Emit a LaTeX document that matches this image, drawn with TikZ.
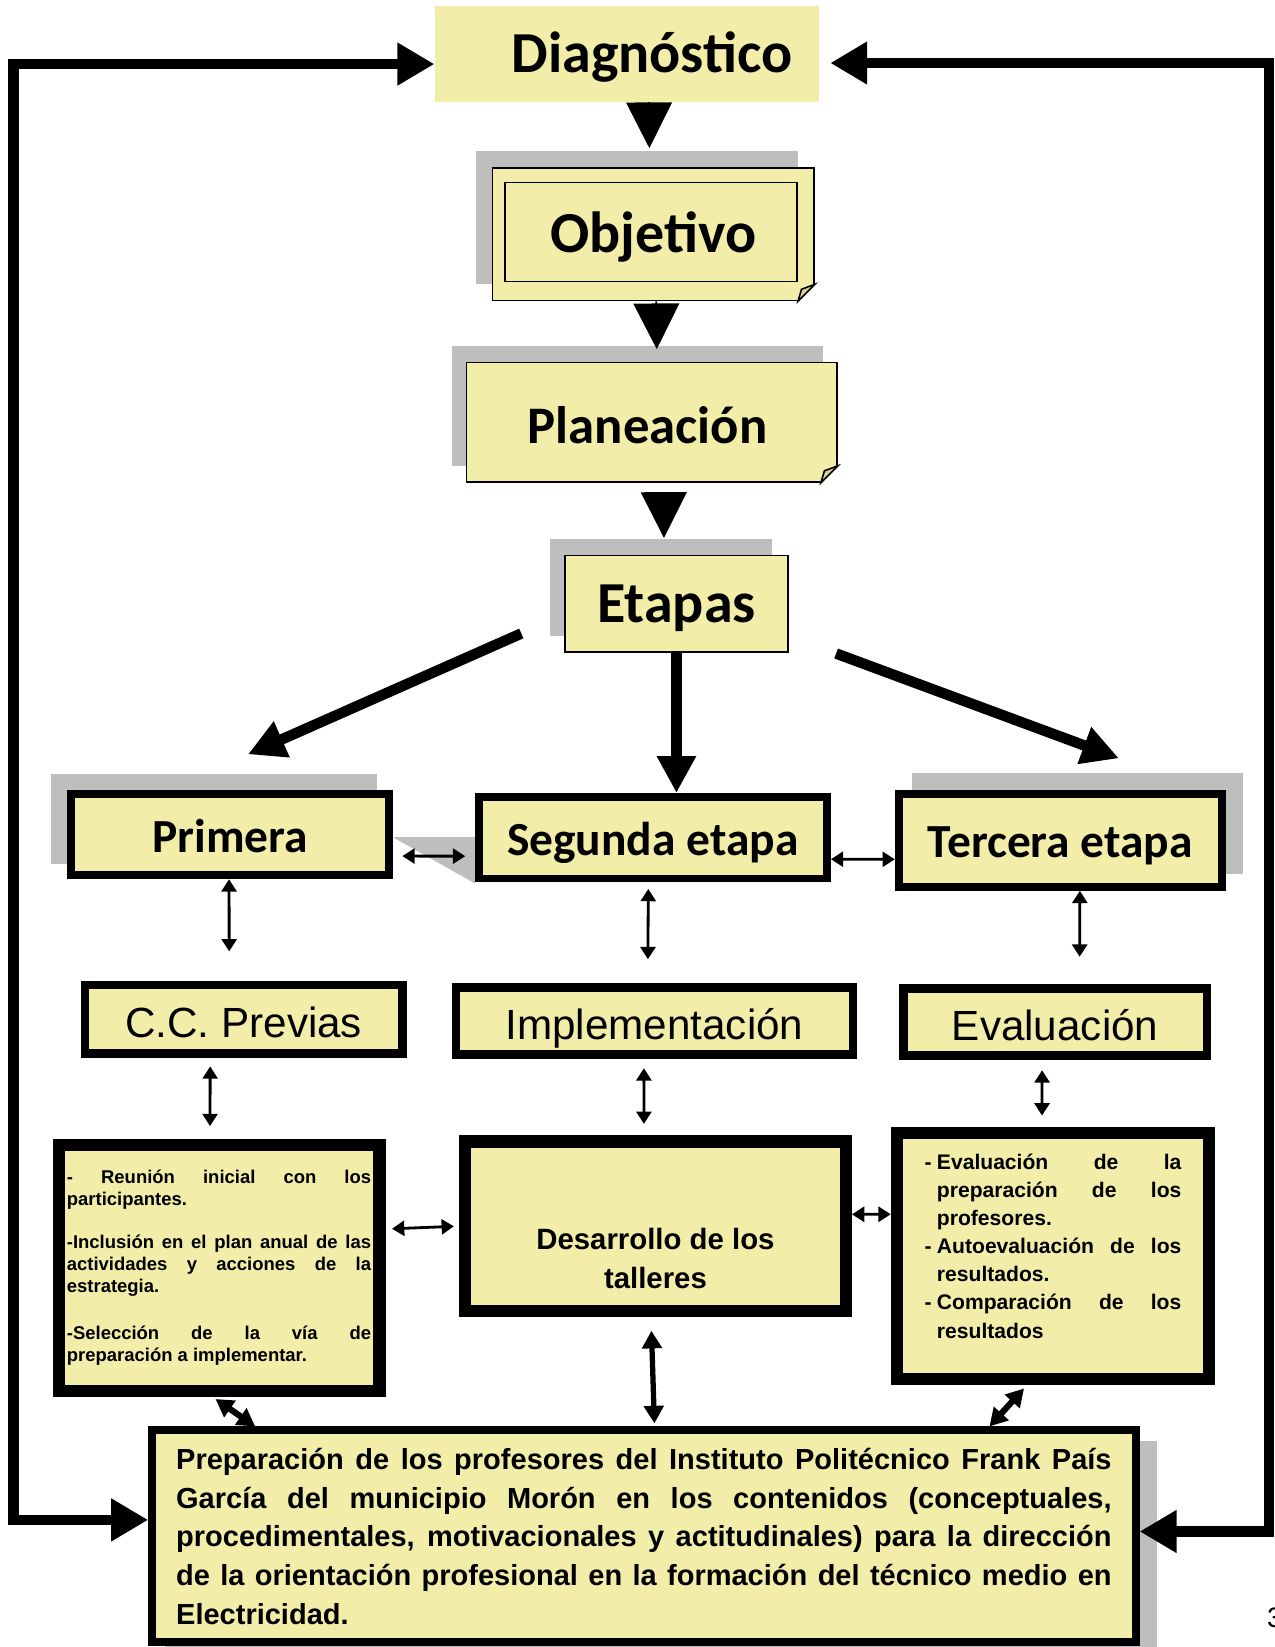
\documentclass[tikz,border=0pt]{standalone}
\usepackage{fontspec}
\setmainfont{Liberation Sans}
\newfontfamily\calibri{Carlito}
\usetikzlibrary{arrows.meta,calc,shadows}

\definecolor{boxyellow}{RGB}{242,237,169}
\definecolor{shadegray}{RGB}{190,190,190}
\definecolor{foldyellow}{RGB}{215,209,150}

\tolerance=10000
\hyphenpenalty=10000
\exhyphenpenalty=10000

\newcommand{\dashitem}{\par\hangindent=7pt\hangafter=1\noindent\makebox[7pt][l]{-}}

\tikzset{
  headbox/.style={font=\calibri\bfseries\fontsize{33}{40}\selectfont, fill=boxyellow, inner sep=0pt,
                  text height=21.3pt, text depth=0pt},
  stagebox/.style={font=\calibri\bfseries\fontsize{27}{32}\selectfont, fill=boxyellow, draw, line width=4.5pt, inner sep=0pt,
                  text height=20pt, text depth=0pt},
  phasebox/.style={font=\fontsize{24}{28}\selectfont, fill=boxyellow, draw, line width=4.8pt, inner sep=0pt,
                  text height=21pt, text depth=0pt},
  heavybox/.style={fill=boxyellow, draw, line width=7pt, inner sep=0pt},
  tri/.style={-{Triangle[length=26pt,width=26pt]}, line width=1pt},
  loopline/.style={<->, >={Triangle[length=21pt,width=23pt]}, line width=6pt},
  bigarrow/.style={-{Triangle[length=21pt,width=21pt]}, line width=6pt},
  dbl/.style={<->, >={Triangle[length=7pt,width=8.5pt]}, line width=1.6pt},
  dblthick/.style={<->, >={Triangle[length=10pt,width=11pt]}, line width=3pt}
}

\begin{document}
\begin{tikzpicture}[x=0.021cm, y=-0.021cm]
  \useasboundingbox (0,0) rectangle (1213,1568);

  % shadow behind Segunda etapa
  \fill[shadegray] (374,797) -- (452,797) -- (452,841) -- cycle;

  % top column
  \node[headbox, minimum width=7.69cm, minimum height=1.91cm] (diag) at (597,51.5) {\hspace*{1cm}Diagnóstico};
  \node[headbox, draw, line width=0.9pt, minimum width=6.43cm, minimum height=2.65cm,
        general shadow={fill=shadegray, shadow xshift=-0.33cm, shadow yshift=0.33cm}] (obj) at (622,223) {Objetivo};
  \draw[line width=0.9pt] ([xshift=0.27cm,yshift=-0.31cm]obj.north west) rectangle ([xshift=-0.36cm,yshift=0.4cm]obj.south east);
  \fill[white] ([xshift=-0.34cm]obj.south east) -- (obj.south east) -- ([yshift=0.34cm]obj.south east) -- cycle;
  \filldraw[fill=foldyellow, line width=0.9pt] ([xshift=-0.34cm]obj.south east) -- ([yshift=0.34cm]obj.south east)
        -- ([xshift=-0.27cm,yshift=0.24cm]obj.south east) -- cycle;

  \node[headbox, draw, line width=0.9pt, font=\calibri\bfseries\fontsize{30}{36}\selectfont, text height=24pt,
        minimum width=7.41cm, minimum height=2.39cm,
        general shadow={fill=shadegray, shadow xshift=-0.29cm, shadow yshift=0.33cm}] (plan) at (620.5,402) {Planeación\hspace*{0.17cm}};
  \fill[white] ([xshift=-0.34cm]plan.south east) -- (plan.south east) -- ([yshift=0.34cm]plan.south east) -- cycle;
  \filldraw[fill=foldyellow, line width=0.9pt] ([xshift=-0.34cm]plan.south east) -- ([yshift=0.34cm]plan.south east)
        -- ([xshift=-0.27cm,yshift=0.24cm]plan.south east) -- cycle;

  \node[headbox, draw, line width=0.9pt, minimum width=4.45cm, minimum height=1.93cm,
        general shadow={fill=shadegray, shadow xshift=-0.31cm, shadow yshift=0.33cm}] (etap) at (644,575) {Etapas};

  % stages
  \node[stagebox, minimum width=6.35cm, minimum height=1.63cm,
        general shadow={fill=shadegray, draw=shadegray, shadow xshift=-0.32cm, shadow yshift=0.31cm}] (prim) at (219,794.5) {Primera};
  \node[stagebox, minimum width=6.96cm, minimum height=1.63cm] (seg) at (621.5,797.5) {Segunda etapa};
  \node[stagebox, minimum width=6.46cm, minimum height=1.86cm,
        general shadow={fill=shadegray, draw=shadegray, shadow xshift=0.34cm, shadow yshift=0.33cm}] (ter) at (1009.5,800) {Tercera etapa};

  \node[phasebox, minimum width=6.34cm, minimum height=1.37cm] (cc) at (232,970.5) {C.C. Previas};
  \node[phasebox, minimum width=7.94cm, minimum height=1.34cm] (impl) at (623,972) {Implementación};
  \node[phasebox, minimum width=6.07cm, minimum height=1.34cm] (eval) at (1004.5,973) {Evaluación};

  \node[heavybox, minimum width=6.41cm, minimum height=4.92cm, text width=173pt, align=justify,
        font=\bfseries\fontsize{10.5}{12.5}\selectfont] (lbox) at (208.5,1207)
        {- Reunión inicial con los\linebreak participantes.\par\vspace{12pt}-Inclusión en el plan anual de las\linebreak actividades y acciones de la\linebreak estrategia.\par\vspace{14pt}-Selección de la vía de\linebreak preparación a implementar.};
  \node[heavybox, minimum width=7.61cm, minimum height=3.39cm, align=center,
        font=\bfseries\fontsize{16.7}{22}\selectfont] (des) at (624,1167.5) {\mbox{}\\[27pt]Desarrollo de los\\talleres};
  \node[heavybox, minimum width=6.24cm, minimum height=4.92cm, text width=146pt, align=justify,
        font=\bfseries\fontsize{12}{16}\selectfont] (rbox) at (1002.5,1196)
        {\dashitem Evaluación de la\linebreak preparación de los\linebreak profesores.\dashitem Autoevaluación de los\linebreak resultados.\dashitem Comparación de los\linebreak resultados\par\vspace{3pt}\mbox{}};

  \node[fill=boxyellow, draw, line width=4.5pt, inner sep=0pt, minimum width=19.66cm, minimum height=4.23cm,
        text width=532pt, align=justify, font=\bfseries\fontsize{16.5}{22}\selectfont,
        general shadow={fill=shadegray, draw=shadegray, shadow xshift=0.34cm, shadow yshift=-0.3cm}] (prep) at (613,1462.5)
        {Preparación de los profesores del Instituto Politécnico Frank País\linebreak García del municipio Morón en los contenidos (conceptuales,\linebreak procedimentales, motivacionales y actitudinales) para la dirección\linebreak de la orientación profesional en la formación del técnico medio en\linebreak Electricidad.};

  \node[anchor=west, font=\fontsize{16}{19}\selectfont, inner sep=0pt] (pnum) at (1206,1540) {3};

  % outer loops
  \coordinate (lt) at (13,61);
  \coordinate (lb) at (13,1447);
  \coordinate (rt) at (1208,60);
  \coordinate (rb) at (1208,1458);
  \draw[loopline] (diag.west |- lt) -- (lt) -- (lb) -- (prep.west |- lb);
  \draw[loopline] ($(diag.east |- rt)+(10,0)$) -- (rt) -- (rb) -- (prep.east |- rb);

  % top column arrows
  \draw[tri] ([xshift=0.44cm]diag.south) -- ([xshift=-0.08cm,yshift=0.38cm]obj.north);
  \draw[tri] ([xshift=0.06cm]obj.south) -- ([xshift=0.1cm,yshift=0.25cm]plan.north);
  \draw[tri] ([xshift=0.24cm,yshift=-0.21cm]plan.south) -- ([xshift=-0.25cm,yshift=0.34cm]etap.north);

  % from Etapas
  \draw[bigarrow] ([xshift=-0.86cm,yshift=-0.59cm]etap.west) -- ([xshift=0.36cm,yshift=0.71cm]prim.north);
  \draw[bigarrow] (etap.south) -- (etap.south |- seg.north);
  \draw[bigarrow] ([xshift=0.95cm,yshift=-0.99cm]etap.east) -- ([xshift=1.17cm,yshift=0.63cm]ter.north);

  % two-way links
  \draw[dbl, shorten <=0.19cm, shorten >=0.19cm] ([yshift=-0.43cm]prim.east) -- ([yshift=-0.37cm]seg.west);
  \draw[dbl] ([yshift=-0.43cm]seg.east) -- ([yshift=-0.38cm]ter.west);
  \draw[dbl] ([xshift=-0.02cm]prim.south) -- ([xshift=-0.29cm,yshift=0.59cm]cc.north);
  \draw[dbl] ([xshift=-0.09cm,yshift=-0.13cm]seg.south) -- ([xshift=-0.13cm,yshift=0.48cm]impl.north);
  \draw[dbl] ([xshift=0.39cm]ter.south) -- ([xshift=0.49cm,yshift=0.55cm]eval.north);
  \draw[dbl] ([xshift=-0.67cm,yshift=-0.17cm]cc.south) -- ([xshift=-0.18cm,yshift=0.25cm]lbox.north);
  \draw[dbl] ([xshift=-0.21cm,yshift=-0.19cm]impl.south) -- ([xshift=-0.23cm,yshift=0.23cm]des.north);
  \draw[dbl] ([xshift=-0.26cm,yshift=-0.21cm]eval.south) -- ([xshift=-0.22cm,yshift=0.23cm]rbox.north);
  \draw[dbl] ([xshift=0.13cm,yshift=0.78cm]lbox.east) -- ([xshift=-0.1cm]des.west);
  \draw[dbl] ([yshift=0.24cm]des.east) -- ([yshift=0.84cm]rbox.west);
  \draw[dblthick] ([xshift=-0.08cm,yshift=-0.27cm]des.south) -- ([xshift=0.21cm,yshift=0.06cm]prep.north);
  \draw[dblthick, line width=3.5pt] ([xshift=-0.07cm,yshift=-0.04cm]lbox.south) -- ([xshift=2.14cm]prep.north west);
  \draw[dblthick, line width=3.5pt] ([xshift=-0.58cm,yshift=-0.06cm]rbox.south) -- ([xshift=-3.0cm]prep.north east);
\end{tikzpicture}
\end{document}
